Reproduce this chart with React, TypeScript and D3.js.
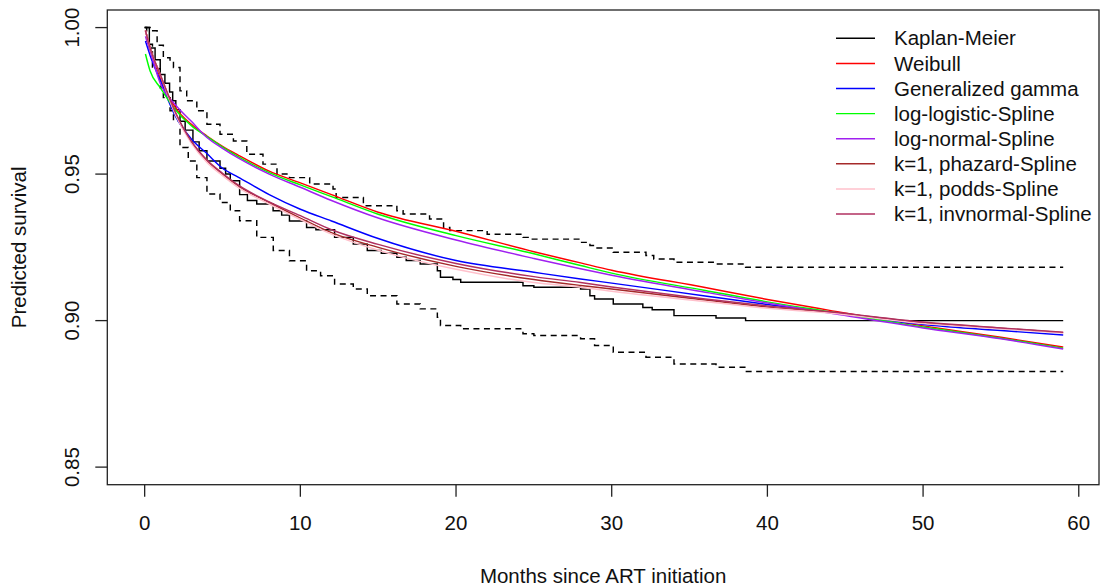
import React from 'react';
import * as d3 from 'd3';

// Kaplan-Meier estimate and its confidence band (month, survival)
const kmTimes = [0, 0.3, 0.67, 1.0, 1.3, 1.6, 1.8, 2.0, 2.27, 2.6, 3.1, 3.5, 4.0, 4.84, 5.2, 5.5, 6.1, 6.6, 7.2, 8.25, 8.8, 9.3, 10.4, 11.0, 12.2, 13.4, 14.3, 15.2, 16.2, 16.8, 17.7, 18.8, 19.0, 19.8, 20.3, 24.3, 25.0, 28.0, 28.6, 28.9, 30.1, 32.0, 32.6, 34.0, 36.7, 38.6, 59];
const kmSurv = [1.0, 0.993, 0.989, 0.984, 0.981, 0.978, 0.975, 0.972, 0.968, 0.965, 0.961, 0.958, 0.9545, 0.952, 0.95, 0.9477, 0.943, 0.941, 0.9398, 0.9375, 0.936, 0.934, 0.9318, 0.931, 0.9284, 0.9261, 0.9239, 0.923, 0.9216, 0.9205, 0.9193, 0.917, 0.9148, 0.914, 0.9131, 0.9119, 0.9114, 0.9108, 0.9085, 0.9074, 0.9057, 0.9045, 0.9037, 0.9017, 0.9009, 0.9, 0.9];

const upperTimes = [0, 0.35, 0.8, 1.2, 1.63, 1.85, 2.27, 2.7, 3.35, 4.0, 4.84, 5.7, 6.56, 7.6, 8.5, 9.3, 10.6, 12.1, 12.3, 14.05, 16.2, 16.6, 18.3, 19.2, 19.6, 22.0, 24.3, 24.75, 28.0, 28.6, 28.9, 30.1, 32.2, 32.7, 34.0, 36.7, 38.6, 59];
const upperSurv = [1.0, 0.9989, 0.994, 0.9897, 0.9886, 0.9864, 0.9784, 0.975, 0.9716, 0.967, 0.9636, 0.9613, 0.9568, 0.9534, 0.95, 0.9488, 0.9466, 0.9449, 0.942, 0.9392, 0.9375, 0.9364, 0.9347, 0.9318, 0.9307, 0.9295, 0.9284, 0.9278, 0.9267, 0.9256, 0.9248, 0.9233, 0.9222, 0.921, 0.9199, 0.9193, 0.9182, 0.9182];

const lowerTimes = [0, 0.13, 0.5, 1.0, 1.2, 1.63, 1.85, 2.27, 2.8, 3.35, 4.0, 4.84, 5.5, 6.1, 7.2, 8.26, 9.3, 10.4, 11.3, 12.2, 13.4, 14.3, 16.2, 17.7, 18.8, 19.0, 20.3, 24.3, 25.0, 28.0, 28.9, 30.1, 32.2, 34.0, 36.7, 38.6, 59];
const lowerSurv = [1.0, 0.9943, 0.986, 0.9795, 0.9761, 0.9716, 0.9682, 0.9591, 0.9545, 0.9488, 0.9432, 0.9403, 0.9375, 0.9341, 0.9284, 0.9239, 0.9204, 0.917, 0.9153, 0.9125, 0.9108, 0.9085, 0.9057, 0.904, 0.9011, 0.8983, 0.8972, 0.8955, 0.8949, 0.8938, 0.8915, 0.8892, 0.8875, 0.8852, 0.8841, 0.8826, 0.8826];

// fitted model curves, sampled at these months
const fitTimes = [0.05, 0.35, 1, 2, 3, 4, 5, 6, 8, 10, 12, 15, 20, 25, 28, 30, 36, 40, 44, 50, 55, 59];
const weibull = [0.999, 0.9932, 0.983, 0.9725, 0.967, 0.963, 0.9595, 0.9565, 0.951, 0.947, 0.943, 0.937, 0.9305, 0.9235, 0.9197, 0.9172, 0.9113, 0.9072, 0.9035, 0.8982, 0.8943, 0.891];
const gengamma = [0.9954, 0.9905, 0.982, 0.9695, 0.962, 0.957, 0.952, 0.949, 0.943, 0.938, 0.934, 0.928, 0.9205, 0.9165, 0.9142, 0.9128, 0.9084, 0.9055, 0.9028, 0.8987, 0.8966, 0.8951];
const loglogistic = [0.991, 0.9852, 0.9795, 0.9718, 0.9665, 0.9628, 0.9592, 0.956, 0.9505, 0.9463, 0.9423, 0.9363, 0.929, 0.9228, 0.9188, 0.9162, 0.9103, 0.9064, 0.903, 0.8978, 0.894, 0.8906];
const lognormal = [0.997, 0.992, 0.981, 0.9735, 0.968, 0.9625, 0.9588, 0.9555, 0.950, 0.9455, 0.941, 0.935, 0.9275, 0.9212, 0.9177, 0.9155, 0.9097, 0.906, 0.9026, 0.8975, 0.8938, 0.8903];
const phazard = [0.999, 0.993, 0.984, 0.9705, 0.961, 0.9545, 0.950, 0.946, 0.9403, 0.935, 0.930, 0.925, 0.9185, 0.914, 0.912, 0.9108, 0.907, 0.9046, 0.9029, 0.8993, 0.8974, 0.8959];
const podds = [0.999, 0.993, 0.984, 0.970, 0.9605, 0.954, 0.9495, 0.9455, 0.9398, 0.9345, 0.9295, 0.924, 0.9175, 0.913, 0.9114, 0.910, 0.9065, 0.9042, 0.9026, 0.899, 0.8972, 0.8958];
const invnormal = [0.999, 0.993, 0.984, 0.9708, 0.9612, 0.9548, 0.9503, 0.9463, 0.9405, 0.9358, 0.931, 0.926, 0.9195, 0.915, 0.913, 0.9115, 0.9074, 0.905, 0.903, 0.8995, 0.8975, 0.896];

const legendLabels = ['Kaplan-Meier', 'Weibull', 'Generalized gamma', 'log-logistic-Spline', 'log-normal-Spline', 'k=1, phazard-Spline', 'k=1, podds-Spline', 'k=1, invnormal-Spline'];
const legendColors = ['#000000', '#ff0000', '#0000ff', '#00ff00', '#a020f0', '#a52a2a', '#ffc0cb', '#b03060'];

const xTicks = [0, 10, 20, 30, 40, 50, 60];
const yTicks = [0.85, 0.9, 0.95, 1.0];

const W = 1102;
const H = 588;
const left = 107.3, right = 1099, top = 10, bottom = 484.7;
const font = '"Liberation Sans", Arial, sans-serif';
const fs = 20.5;
const lw = 1.45;

export default function App() {
  const x = d3.scaleLinear().domain([-2.4, 61.3]).range([left, right]);
  const y = d3.scaleLinear().domain([0.844, 1.006]).range([bottom, top]);

  const step = d3.line<[number, number]>()
    .x(d => x(d[0]))
    .y(d => y(d[1]))
    .curve(d3.curveStepAfter);

  const smooth = d3.line<[number, number]>()
    .x(d => x(d[0]))
    .y(d => y(d[1]))
    .curve(d3.curveMonotoneX);

  const pairs = (ts: number[], vs: number[]) => ts.map((t, i) => [t, vs[i]] as [number, number]);

  // drawing order follows the legend
  const fits = [
    { vals: weibull, color: legendColors[1] },
    { vals: gengamma, color: legendColors[2] },
    { vals: loglogistic, color: legendColors[3] },
    { vals: lognormal, color: legendColors[4] },
    { vals: phazard, color: legendColors[5] },
    { vals: podds, color: legendColors[6] },
    { vals: invnormal, color: legendColors[7] },
  ];

  return (
    <svg width={W} height={H} style={{ position: 'absolute', left: 0, top: 0, background: '#fff' }}
      fontFamily={font} fontSize={fs}>
      <defs>
        <clipPath id="plotArea">
          <rect x={left} y={top} width={right - left} height={bottom - top} />
        </clipPath>
      </defs>

      <g clipPath="url(#plotArea)" fill="none" strokeWidth={lw}>
        <path d={step(pairs(kmTimes, kmSurv)) || ''} stroke="#000" />
        <path d={step(pairs(upperTimes, upperSurv)) || ''} stroke="#000" strokeDasharray="6,4.5" />
        <path d={step(pairs(lowerTimes, lowerSurv)) || ''} stroke="#000" strokeDasharray="6,4.5" />
        {fits.map((f, i) => (
          <path key={i} d={smooth(pairs(fitTimes, f.vals)) || ''} stroke={f.color} />
        ))}
      </g>

      <rect x={left} y={top} width={right - left} height={bottom - top} fill="none" stroke="#222" strokeWidth={1.3} />

      {/* axes ticks */}
      <g stroke="#222" strokeWidth={1.3}>
        {xTicks.map(t => (
          <line key={t} x1={x(t)} x2={x(t)} y1={bottom} y2={bottom + 12} />
        ))}
        {yTicks.map(t => (
          <line key={t} x1={left} x2={left - 12} y1={y(t)} y2={y(t)} />
        ))}
      </g>
      {xTicks.map(t => (
        <text key={t} x={x(t)} y={523} dy="0.35em" textAnchor="middle" fill="#111">{t}</text>
      ))}
      {yTicks.map(t => (
        <text key={t} transform={`translate(72,${y(t)}) rotate(-90)`} dy="0.35em" textAnchor="middle" fill="#111">
          {t.toFixed(2)}
        </text>
      ))}
      <text x={(left + right) / 2} y={576} dy="0.35em" textAnchor="middle" fill="#111">Months since ART initiation</text>
      <text transform={`translate(19,${(top + bottom) / 2}) rotate(-90)`} dy="0.35em" textAnchor="middle" fill="#111">
        Predicted survival
      </text>

      {/* legend */}
      {legendLabels.map((lab, i) => {
        const ly = 38.3 + i * 25.1;
        return (
          <g key={lab}>
            <line x1={836} x2={875} y1={ly} y2={ly} stroke={legendColors[i]} strokeWidth={lw} />
            <text x={894} y={ly} dy="0.35em" fill="#111">{lab}</text>
          </g>
        );
      })}
    </svg>
  );
}
